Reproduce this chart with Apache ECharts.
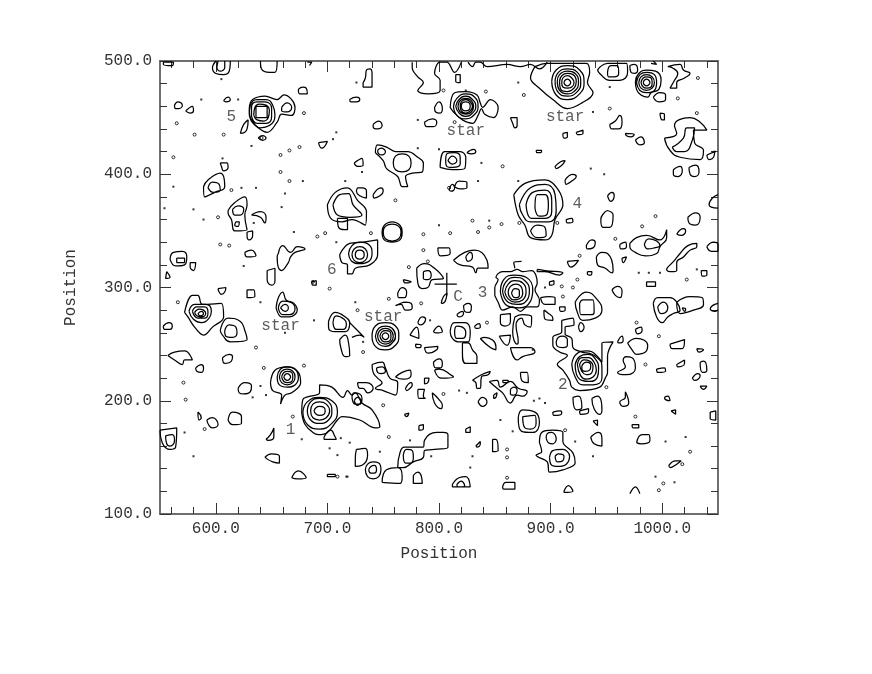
<!DOCTYPE html>
<html lang="en">

<head>
  <meta charset="UTF-8">
  <title>Position contour map</title>
  <style>
    html, body { margin: 0; padding: 0; background: #fff; }
  </style>
</head>

<body>
  <div id="main" style="width: 872px;height:674px;"></div>

  <script src="https://cdn.jsdelivr.net/npm/echarts@6/dist/echarts.min.js"></script>

  <script type="text/javascript">
    // tick positions
    var xMajorTicks = [600, 700, 800, 900, 1000];
    var xMinorTicks = [560, 580, 620, 640, 660, 680, 720, 740, 760, 780, 820, 840, 860, 880, 920, 940, 960, 980, 1020, 1040];
    var yMajorTicks = [100, 200, 300, 400, 500];
    var yMinorTicks = [120, 140, 160, 180, 220, 240, 260, 280, 320, 340, 360, 380, 420, 440, 460, 480];

    // nested rings of the bright sources, flat x,y lists
    var sourceRings = [
      // NE star
      [912,481,913,483,915,484,917,483,918,481,917,479,915,478,913,479],
      [910,481,911,485,915,487,919,485,921,481,919,477,915,476,911,477],
      [908,482,910,487,915,489,920,488,923,482,921,476,915,473,909,475],
      [906,482,908,488,915,491,922,489,925,481,922,474,915,471,908,474],
      [904,482,907,490,915,493,924,490,927,481,924,473,915,469,907,472],
      [901,482,905,492,915,496,926,492,930,481,926,471,915,466,905,470],
      // top right
      [983,481,984,483,986,484,988,483,989,481,988,479,986,478,984,479],
      [981,481,983,485,986,486,990,485,991,481,990,477,986,476,983,477],
      [979,481,981,486,986,488,991,486,993,481,991,476,986,474,981,476],
      [977,481,980,488,986,490,993,488,995,481,993,474,986,472,980,474],
      [976,482,979,489,986,492,994,491,999,483,997,475,990,472,987,468,981,470,977,475],
      // top star
      [820,460,821,463,824,464,827,463,828,460,827,457,824,456,821,457],
      [819,460,820,464,824,466,828,464,830,460,828,456,824,454,820,456],
      [817,460,819,465,824,467,829,465,831,460,829,455,824,453,819,455],
      [815,460,818,466,824,469,830,466,833,460,830,454,824,451,818,454],
      [813,460,816,467,824,471,832,468,835,460,832,453,824,449,816,452],
      // 5
      [636,450,636,460,646,460,646,450],
      [634,452,635,459,639,462,645,461,648,456,647,450,643,447,637,448],
      [632,451,632,459,637,464,644,464,650,458,650,451,645,445,637,445],
      [630,452,631,461,637,466,645,466,651,461,653,452,648,443,640,441,634,445],
      // 3
      [855,296,858,307,868,311,878,309,884,298,882,288,872,282,861,284],
      [857,296,860,305,868,309,877,306,881,297,879,289,870,285,862,287],
      [859,296,862,303,868,306,875,304,878,296,875,289,868,287,862,290],
      [862,296,864,301,869,303,874,300,875,295,872,290,867,289,863,292],
      [865,295,868,299,872,297,872,293,868,291],
      // 2
      [919,232,923,241,932,244,941,240,946,230,946,220,938,214,929,214,922,221],
      [922,232,926,239,933,241,940,237,943,228,942,221,935,217,928,218,923,224],
      [924,232,928,238,934,238,939,234,941,227,938,221,932,219,927,222],
      [926,232,930,236,935,235,938,230,937,225,932,223,928,226],
      [928,231,932,234,936,231,935,227,931,226,928,228],
      // 1
      [688,191,690,194,693,195,697,194,698,191,697,188,693,187,690,188],
      [685,191,687,197,693,199,699,197,702,191,699,185,693,183,687,185],
      [682,191,685,199,693,202,701,199,704,191,701,183,693,180,685,183],
      [678,190,682,199,693,203,704,200,709,190,704,180,693,175,682,179],
      // low left star
      [661,221,662,223,664,224,666,223,667,221,666,219,664,218,662,219],
      [659,221,661,225,664,226,668,225,669,221,668,217,664,216,661,217],
      [657,221,659,226,664,228,669,226,671,221,669,216,664,214,659,216],
      [655,221,658,228,664,230,671,228,674,220,671,214,664,212,657,214],
      // middle star
      [749,257,750,259,752,260,754,259,755,257,754,255,752,254,750,255],
      [747,257,749,261,752,262,756,261,757,257,756,253,752,252,749,253],
      [745,257,747,262,752,264,757,262,759,257,757,252,752,250,747,252],
      [743,257,746,264,752,266,758,264,761,257,758,251,752,248,746,250],
      [740,257,743,266,752,269,761,266,764,257,761,249,752,245,743,248],
      // left source
      [576,279,581,285,591,285,596,279,594,273,587,269,580,272],
      [579,279,583,283,590,283,593,278,590,273,584,273],
      [581,278,585,281,589,280,591,277,587,274,583,275],
      [584,277,587,279,589,277,586,275],
      // 6
      [725,329,726,332,729,333,732,332,733,329,732,326,729,325,726,326],
      [722,329,724,334,729,336,734,334,736,329,734,324,729,322,724,324],
      [719,330,722,337,729,340,737,338,740,330,737,323,729,321,722,323],
      // 4
      [872,373,882,388,895,391,904,382,905,368,898,358,882,358,875,364],
      [878,373,884,384,895,386,901,377,901,367,895,361,883,361],
      [886,370,888,382,895,382,898,373,897,365,890,363],
      [882,350,888,355,895,353,896,346,888,344],
      // small ring pairs
      [750,349,752,354,758,356,764,354,766,349,764,343,758,341,752,343],
      [749,349,751,355,758,358,765,355,767,349,765,342,758,340,751,342],
      [656,282,660,288,667,287,671,281,666,276,660,276],
      [658,282,662,285,665,282,662,279],
      [806,412,807,418,814,419,819,415,819,409,812,406,807,407],
      [808,412,812,416,816,412,812,409]
    ];

    // outer contours around the sources
    var outerContours = [
      [886,495,897,498,932,498,935,490,933,481,938,472,928,463,915,458,902,466,890,476,882,485],
      [630,459,633,466,644,469,655,466,661,470,671,459,668,452,659,453,655,446,646,437,638,441,631,449],
      [810,459,814,472,824,473,834,470,837,463,839,459,846,466,853,459,849,450,841,453,838,458,835,452,830,445,821,448,813,455],
      [850,293,850,300,853,307,851,309,857,314,864,314,870,316,875,314,883,315,888,304,886,298,890,289,888,283,879,283,873,279,866,283,857,280,853,287],
      [867,382,877,392,895,395,907,386,911,373,904,360,901,346,895,342,882,344,877,355,871,364],
      [910,271,920,273,921,267,913,265,913,259,919,255,920,247,928,243,937,241,946,234,946,251,956,252,951,239,951,225,949,220,944,212,926,209,919,212,917,218,911,227,906,232,915,240,908,243,902,249,902,256,910,261],
      [677,189,678,201,693,207,693,214,704,212,714,203,718,209,722,205,725,207,731,198,740,192,747,177,743,176,729,183,713,186,709,183,700,172,692,170,687,172,680,179],
      [649,216,653,227,664,230,674,225,676,216,668,207,662,205,658,197,659,205,651,209],
      [572,278,579,293,584,293,588,285,605,286,607,274,597,265,589,258,581,265,575,274],
      [711,329,720,339,732,340,745,342,745,329,738,320,725,317,722,312,718,312,718,320,713,322],
      [654,282,656,291,660,296,663,289,670,286,673,280,666,274,659,274],
      [801,406,805,420,819,420,824,415,823,405,812,404],
      [743,419,745,426,753,424,761,420,772,420,781,415,786,410,785,402,776,401,770,398,772,389,767,389,763,398,753,405,750,412],
      [700,373,707,384,718,388,727,377,735,367,734,355,722,360,713,358,703,361],
      [705,373,711,382,719,383,723,373,731,364,720,362,709,364],
      [890,163,892,172,902,174,911,172,911,164,920,154,922,145,911,139,899,137,897,146,887,152,892,155],
      [899,150,902,156,911,157,917,151,914,144,907,142,901,143],
      [904,151,907,153,912,151,911,147,906,146],
      [896,167,897,171,901,172,904,170,905,166,902,162,898,163],
      [905,252,907,256,911,257,915,254,915,249,911,247,906,248]
    ];

    // isolated faint islands
    var faintIslands = [
      [553,499,562,499,561,496,553,497],[674,475,678,477,681,476,682,471,675,471],[563,461,566,464,570,461,567,458,564,458],
      [573,456,579,460,580,456,577,454],[607,465,611,468,613,466,609,464],[622,436,625,444,629,448,628,440,626,437],
      [638,432,642,434,645,432,642,430],[692,428,700,429,695,423],[604,410,610,410,611,406,607,403,605,407],
      [589,389,593,395,604,401,608,389,599,384,590,380],[593,388,597,393,603,391,604,386,598,384],
      [659,459,664,463,668,459,664,455,659,456],[611,368,617,375,626,380,628,373,626,364,628,351,617,350,614,360,611,366],
      [615,369,620,372,625,369,622,364,617,364],[618,358,621,358,620,354,617,355],[632,364,640,367,645,362,644,357,640,362,633,364],
      [628,349,633,350,633,346,630,342,628,346],[559,325,562,331,570,332,574,327,572,320,564,319],[565,326,572,326,572,322,565,322],
      [577,322,582,322,580,315,577,318],[626,331,632,333,636,328,628,327],[656,330,660,337,667,331,673,336,680,334,671,331,667,327,665,322,659,315,655,327],
      [646,315,653,317,653,306,650,302,646,307],[556,314,559,309,555,308],[709,361,718,361,718,351,711,352],
      [732,481,734,485,735,492,738,493,740,489,740,477,732,477],[720,466,726,468,729,466,726,464,721,464],[741,444,746,447,749,443,745,440,741,442],
      [815,488,819,488,819,481,815,482],[796,459,800,464,803,458,801,454,797,455],[787,446,794,449,798,446,795,442,789,442],
      [864,450,870,450,870,443,868,441,866,445],[745,421,748,423,752,420,749,417,746,418],[759,410,761,416,767,418,773,416,775,410,773,404,767,402,761,404],
      [825,419,831,422,833,420,829,418],[724,410,731,414,732,408,727,407],[814,389,818,394,825,393,825,388,819,387],[809,386,812,391,814,388,811,385],
      [727,388,731,388,735,385,735,379,729,381,726,385],[741,382,748,388,750,385,747,381,742,379],
      [942,492,951,498,968,498,969,490,962,483,953,483,944,489],[951,490,954,496,960,496,961,489,957,486,952,486],[971,496,975,497,978,492,975,489,972,490],
      [1005,495,1016,497,1019,492,1025,489,1020,485,1013,481,1013,476,1007,476,1011,483,1014,489,1009,494],[992,468,998,472,1003,470,1003,466,997,464],
      [998,454,1002,453,1002,448,1000,448],[953,444,958,447,962,452,964,446,961,440,955,440],[911,436,915,437,915,433,912,432],[923,437,929,439,929,436,924,435],
      [967,436,975,435,972,433,968,434],[976,430,981,433,984,428,980,426],[887,421,892,421,891,419,888,419],[904,407,909,411,913,412,910,408,905,405],
      [913,395,920,400,923,398,919,394,914,391],[1002,432,1013,436,1011,443,1025,450,1034,446,1040,439,1028,439,1029,428,1037,421,1034,413,1016,415,1007,421],
      [1009,424,1019,432,1022,441,1029,441,1027,430,1020,420,1013,420],[1040,417,1047,420,1046,415,1042,413],[1010,404,1016,407,1018,403,1014,398,1010,400],
      [1024,406,1030,408,1033,402,1029,398,1025,400],[951,381,955,384,957,381,954,376],[951,368,956,364,953,353,947,353,945,360,948,366],
      [1023,362,1030,366,1034,362,1030,355,1025,356],[914,360,919,361,920,358,915,357],[932,337,937,342,940,340,938,335,933,334],
      [915,323,925,324,918,318],[941,327,946,331,951,330,956,315,955,313,949,317,942,320],[933,314,937,314,936,311,933,312],[962,338,967,340,968,336,963,334],
      [964,326,968,327,965,322],[971,339,977,344,986,346,998,342,1004,351,1004,344,998,336,995,330,985,328,976,331,971,336],[984,338,988,343,995,341,998,337,993,335,987,334],
      [1013,347,1019,352,1021,350,1017,346],[1005,318,1011,324,1016,330,1023,337,1031,339,1031,336,1025,333,1019,327,1013,322,1013,315,1009,314,1004,316],
      [1035,315,1040,315,1040,311,1036,310],[986,305,994,305,994,301,986,301],[955,298,960,301,964,297,962,291,958,293],
      [992,286,996,291,1007,291,1013,287,1016,280,1010,277,1005,274,1000,269,995,274],[1013,287,1025,292,1036,291,1037,285,1028,280,1016,277],
      [996,283,1001,287,1005,282,1003,278,999,277],[1018,282,1021,281,1020,279],[922,287,932,296,942,289,946,280,940,273,929,271,924,278],
      [926,286,929,289,938,289,939,278,936,276,927,276],[925,265,927,269,930,265,927,261],[908,283,913,283,913,280,909,279],[894,280,897,278,902,273,902,271,895,272],
      [899,305,903,306,903,303,899,302],[888,316,895,315,911,313,908,311,895,314,888,314],[891,291,899,292,904,291,904,285,895,285],[813,324,823,331,832,333,843,324,844,317,835,317,833,313,830,318,819,320],
      [824,327,828,331,830,327,826,323],[799,335,809,335,810,330,801,328],[780,317,787,321,796,317,804,308,794,307,790,300,785,299,781,304],
      [786,314,790,315,793,311,790,307,786,308],[768,307,772,306,775,305,770,304],[802,286,804,292,807,295,806,289,803,286],[763,295,767,300,771,296,769,291,764,291],
      [768,287,775,286,776,282,770,280,766,285,761,284],[822,284,826,286,829,283,827,278,823,279],[816,276,821,279,822,277,818,274],[781,269,785,274,788,272,786,268,783,267],
      [774,258,780,265,782,255],[795,261,800,266,803,261,797,260],[832,266,836,268,837,265,833,264],[810,261,814,269,823,269,828,261,826,252,817,252,812,255],
      [814,261,816,266,821,265,824,260,821,255,816,255],[821,251,826,251,830,245,834,239,834,233,824,233,821,242],[837,255,841,256,851,248,851,245,846,247],
      [854,257,864,258,861,249],[868,274,875,276,883,274,882,265,877,267,874,273,869,267,871,252,870,250,866,261],[855,276,864,277,864,270,859,266,855,269],
      [864,247,873,247,882,247,886,243,875,239,870,236],[795,234,800,237,803,233,801,229,797,229],[787,247,799,248,798,245,790,242],[779,250,784,249,783,247,780,247],
      [701,270,707,278,716,274,720,269,716,261,707,261,701,265],[705,269,708,275,715,272,717,268,714,263,708,263],[711,254,716,258,719,251,720,240,716,239,712,247],
      [602,299,609,300,608,296,605,294,603,296],[628,298,634,298,635,292,628,291],[686,305,690,306,690,302,687,302],[604,262,611,273,622,270,626,262,628,254,613,252,606,258],
      [608,262,612,267,618,265,619,260,615,256,609,257],[553,266,558,269,561,266,559,263,554,263],[557,240,563,243,572,244,579,236,572,236,570,232,563,236],
      [606,238,612,241,615,239,614,235,608,233],[582,229,587,232,589,229,587,225,583,226],[584,190,587,185,585,183],[592,183,597,185,602,179,597,176,594,178],
      [611,183,615,190,623,186,623,180,615,179],[620,211,626,216,632,213,631,208,625,206,621,207],[645,166,649,170,652,176,652,168,647,165],
      [697,168,703,174,707,168,708,166,697,166],[644,150,650,153,657,151,657,145,651,146],[668,132,674,138,681,132,673,131],[700,135,707,135,707,133,700,133],
      [550,174,565,176,564,159,559,157,552,163],[555,169,561,170,563,165,559,160,556,162],[722,203,724,207,729,206,731,202,729,197,725,197],[724,200,727,203,730,200,727,196],
      [740,232,749,234,752,229,756,220,763,216,761,205,750,209,743,211,749,216,745,220,741,225],[744,229,749,230,752,226,748,224,745,225],
      [727,216,735,216,741,211,736,207,732,211,729,211],[761,221,767,225,774,227,775,223,768,219],[770,211,775,216,776,214,773,210,771,209],[787,220,791,220,790,216,787,215],
      [796,227,800,228,812,222,813,221,802,220],[781,210,787,210,786,204,788,202,782,202],[794,207,800,201,803,196,802,193,796,198],
      [830,218,838,223,846,226,844,223,838,221,837,211,834,211,833,216],[835,199,839,203,843,199,839,195],[845,217,852,218,855,212,864,217,871,211,879,208,875,204,870,205,864,198,857,207,852,211],
      [864,210,867,212,870,209,867,205,864,206],[857,218,862,218,862,216,858,216],[849,205,852,207,851,203,849,202],[873,225,879,225,880,216,875,217],
      [769,188,773,189,771,186],[782,178,786,179,786,175,782,174],[726,157,734,158,736,152,731,143,725,142,725,149],[734,139,736,144,741,146,746,145,748,139,746,133,741,131,736,133],
      [737,139,739,142,742,143,744,139,742,136,739,136],[749,128,753,139,763,141,767,133,765,127],[763,141,765,154,769,159,786,159,787,165,798,172,804,172,808,170,808,159,796,157,787,156,786,150,777,146,768,141],
      [768,152,771,157,776,156,777,150,774,145,770,145],[777,134,781,137,784,134,785,127,777,127],[812,126,818,132,824,133,828,124,812,124],[816,126,820,129,823,125,817,124],
      [857,124,860,128,868,128,868,122,858,122],[824,175,828,177,828,172,824,172],[833,160,837,164,837,162,834,159],[848,166,851,166,853,156,848,155],
      [871,185,875,192,886,190,890,181,884,172,874,173],[875,186,886,187,887,180,882,175,877,176],[902,190,909,191,910,189,903,187],[920,203,925,204,928,194,923,192],
      [926,191,934,193,934,190,927,188],[937,202,942,204,946,192,944,188,939,193],[938,182,942,183,942,178],[936,168,943,172,946,166,946,160,939,162],
      [912,120,916,125,920,120,912,119],[967,208,970,198,965,195,962,199,967,203],[973,179,979,179,979,176,974,176],[977,163,982,170,988,170,989,165,981,162],
      [1002,203,1005,204,1007,200,1003,201],[1008,191,1012,192,1012,188],[1006,143,1012,147,1017,147,1013,144,1007,141],[1043,190,1048,191,1048,183,1043,184],
      [1034,213,1040,213,1037,210],[1027,220,1032,224,1034,222,1029,218],[995,228,1002,229,1003,226,996,225],[1013,232,1020,236,1020,233,1014,230],
      [1034,234,1037,235,1040,227,1036,225],[967,239,973,238,976,229,968,223,960,225,967,230,965,236],[969,251,977,255,987,249,985,243,977,241,973,245],
      [960,252,964,257,965,253,961,251],[976,263,981,265,982,262,978,259],[1007,250,1020,254,1018,246,1009,246],[1031,246,1037,245,1033,243],
      [1040,336,1046,340,1050,338,1050,332,1044,332]
    ];

    // contours running off the frame, not closed
    var openContours = [
      [600,500,597,494,600,489,607,488,612,491,613,500],[602,500,601,494,604,491,608,494,608,500],[640,500,641,493,648,490,653,490,655,500],
      [682,499,686,499,684,496],[776,499,776,494,781,486,786,481,781,474,790,471,801,474,801,483,796,489,801,499,807,499,814,490,820,499],
      [826,499,830,495,833,499,837,499,843,495,861,497,873,495,882,497,890,493,897,499],[990,498,995,497,992,500],
      [1050,382,1045,379,1042,373,1044,371,1050,370],[720,269,727,262,733,256,729,258,722,256],[868,317,867,322,874,323],[971,118,976,124,980,118],
      [1050,286,1045,284,1043,281,1047,279,1050,280]
    ];

    // the cross marking C
    var crossLines = [[796, 303, 816, 303], [807, 313, 807, 293]];

    // contours too small to draw a shape for
    var tinyLoops = [
      [565,445],[581,435],[607,435],[641,432],[679,454],[658,417],[666,421],[675,424],[562,415],[658,402],[666,394],[614,386],
      [602,362],[698,348],[691,345],[604,338],[612,337],[687,305],[761,377],[804,474],[842,473],[876,470],[814,446],[857,407],
      [809,388],[1032,485],[1014,467],[953,458],[1031,454],[906,357],[926,328],[958,343],[982,354],[994,363],[1022,307],[911,292],
      [910,301],[920,300],[924,307],[786,347],[810,348],[830,359],[845,353],[835,349],[856,356],[872,357],[786,333],[790,323],
      [773,318],[755,290],[784,286],[727,280],[843,269],[732,243],[702,299],[566,287],[636,247],[571,216],[573,201],[590,175],
      [643,229],[679,231],[669,186],[709,133],[804,206],[750,196],[755,168],[861,132],[861,157],[861,150],[913,174],[985,232],
      [977,269],[997,257],[1025,155],[976,186],[1018,144],[1001,127],[997,121],[950,212],[739,348]
    ];
    var specks = [
      [605,484],[587,466],[620,466],[632,425],[705,431],[708,437],[606,414],[678,394],[562,389],[623,388],[636,388],[662,383],
      [659,371],[554,370],[580,369],[589,360],[634,357],[670,349],[708,340],[625,319],[726,481],[824,474],[871,481],[781,448],
      [781,423],[800,422],[838,410],[731,402],[716,394],[835,394],[871,394],[953,477],[936,405],[948,400],[938,455],[979,313],
      [988,313],[998,313],[895,300],[725,287],[792,271],[732,252],[640,287],[688,271],[662,260],[640,213],[633,203],[645,205],
      [677,166],[712,167],[702,158],[709,152],[718,133],[580,151],[572,172],[793,151],[818,209],[825,207],[855,183],[866,173],
      [830,151],[828,141],[774,165],[720,163],[747,155],[717,133],[885,200],[890,202],[895,198],[922,164],[938,151],[1003,164],
      [1021,168],[1011,128],[994,133],[884,245],[800,355],[845,359],[1031,316],[1047,420]
    ];

    // text written on the plot
    var noteTexts = ['1', '2', '3', '4', '5', '6', 'C', 'star', 'star', 'star', 'star'];
    var noteX = [667, 911, 839, 924, 614, 704, 817, 658, 750, 824, 913];
    var noteY = [174, 214, 295, 374, 451, 316, 292, 266, 274, 438, 451];

    var labelFont = {
      fontFamily: 'Liberation Mono',
      fontSize: 16,
      color: '#333',
      textBorderWidth: 0
    };

    // flat list to x,y pairs, with a gap after each path
    function toPoints(paths, closed) {
      var points = [];
      paths.forEach(function (p) {
        for (var i = 0; i < p.length; i += 2) {
          points.push([p[i], p[i + 1]]);
        }
        if (closed) {
          points.push([p[0], p[1]]);
        }
        points.push(['-', '-']);
      });
      return points;
    }

    function contourSeries(name, paths, closed, smooth) {
      return {
        name: name,
        type: 'line',
        xAxisIndex: 0,
        yAxisIndex: 0,
        data: toPoints(paths, closed),
        showSymbol: false,
        smooth: smooth,
        connectNulls: false,
        silent: true,
        z: 3,
        lineStyle: { color: '#000', width: 1.25 }
      };
    }

    function makeXAxis(grid, position, ticks, len, labelled) {
      return {
        type: 'value',
        gridIndex: grid,
        position: position,
        min: 550,
        max: 1050,
        name: labelled ? 'Position' : '',
        nameLocation: 'middle',
        nameGap: 32,
        nameTextStyle: labelFont,
        axisLine: { show: true, onZero: false, lineStyle: { color: '#666', width: 1.5 } },
        axisTick: { show: true, inside: true, length: len, customValues: ticks, lineStyle: { color: '#333' } },
        axisLabel: labelled ? Object.assign({
          show: true,
          margin: 7,
          customValues: xMajorTicks,
          formatter: function (v) { return v.toFixed(1); }
        }, labelFont) : { show: false },
        splitLine: { show: false }
      };
    }

    function makeYAxis(grid, position, ticks, len, labelled) {
      return {
        type: 'value',
        gridIndex: grid,
        position: position,
        min: 100,
        max: 500,
        name: labelled ? 'Position' : '',
        nameLocation: 'middle',
        nameGap: 81,
        nameTextStyle: labelFont,
        axisLine: { show: true, onZero: false, lineStyle: { color: '#666', width: 1.5 } },
        axisTick: { show: true, inside: true, length: len, customValues: ticks, lineStyle: { color: '#333' } },
        axisLabel: labelled ? Object.assign({
          show: true,
          margin: 8,
          customValues: yMajorTicks,
          formatter: function (v) { return v.toFixed(1); }
        }, labelFont) : { show: false },
        splitLine: { show: false }
      };
    }

    var myChart = echarts.init(document.getElementById('main'), null, { renderer: 'canvas' });

    var gridBox = { left: 160, top: 61, width: 558, height: 453, containLabel: false };

    var option = {
      backgroundColor: '#fff',
      animation: false,
      grid: [gridBox, gridBox],
      xAxis: [
        makeXAxis(0, 'bottom', xMinorTicks, 7, true),
        makeXAxis(0, 'top', xMinorTicks, 7, false),
        makeXAxis(1, 'bottom', xMajorTicks, 11, false),
        makeXAxis(1, 'top', xMajorTicks, 11, false)
      ],
      yAxis: [
        makeYAxis(0, 'left', yMinorTicks, 7, true),
        makeYAxis(0, 'right', yMinorTicks, 7, false),
        makeYAxis(1, 'left', yMajorTicks, 11, false),
        makeYAxis(1, 'right', yMajorTicks, 11, false)
      ],
      series: [
        contourSeries('rings', sourceRings, true, 0.5),
        contourSeries('outer', outerContours, true, 0.4),
        contourSeries('islands', faintIslands, true, 0.5),
        contourSeries('open', openContours, false, 0.4),
        contourSeries('cross', crossLines, false, false),
        {
          name: 'tiny',
          type: 'scatter',
          xAxisIndex: 0,
          yAxisIndex: 0,
          data: tinyLoops,
          symbol: 'circle',
          symbolSize: 3,
          silent: true,
          itemStyle: { color: '#fff', borderColor: '#000', borderWidth: 1 }
        },
        {
          name: 'specks',
          type: 'scatter',
          xAxisIndex: 0,
          yAxisIndex: 0,
          data: specks,
          symbol: 'rect',
          symbolSize: 2,
          silent: true,
          itemStyle: { color: '#000' }
        },
        {
          name: 'notes',
          type: 'scatter',
          xAxisIndex: 0,
          yAxisIndex: 0,
          data: noteTexts.map(function (t, i) {
            return { value: [noteX[i], noteY[i]], name: t };
          }),
          symbolSize: 0,
          silent: true,
          z: 4,
          label: Object.assign({
            show: true,
            position: 'inside',
            formatter: '{b}'
          }, labelFont)
        }
      ]
    };

    myChart.setOption(option);
  </script>
</body>

</html>
